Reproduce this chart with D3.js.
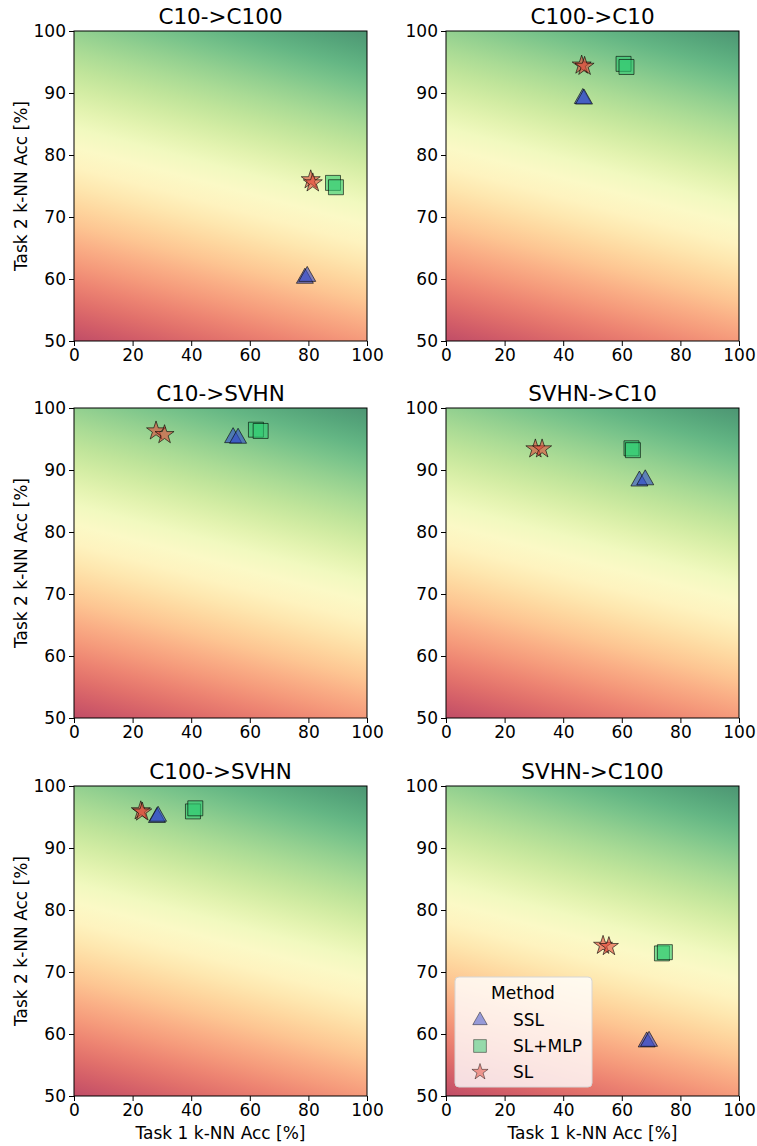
<!DOCTYPE html>
<html lang="en">
<head>
<meta charset="utf-8">
<title>k-NN accuracy panels</title>
<script src="https://cdn.jsdelivr.net/npm/d3@7/dist/d3.min.js"></script>
<style>
  body { margin: 0; background: #fff; }
  svg { font-family: "DejaVu Sans", sans-serif; }
</style>
</head>
<body>
<div id="chart"></div>
<script>
"use strict";

// --- data ---
var panelTitles = ["C10->C100", "C100->C10", "C10->SVHN", "SVHN->C10", "C100->SVHN", "SVHN->C100"];
var methods = ["SSL", "SL+MLP", "SL"];
var xTicks = [0, 20, 40, 60, 80, 100];
var yTicks = [50, 60, 70, 80, 90, 100];

// one inner array per panel, several runs per method
var sslX = [[78.8, 79.6], [46.7, 47.1], [54.3, 56.0], [66.0, 68.0], [28.3, 28.7], [68.5, 69.3]];
var sslY = [[60.2, 60.5], [89.2, 89.1], [95.3, 95.2], [88.3, 88.5], [95.0, 95.2], [58.8, 58.9]];
var mlpX = [[88.4, 89.4], [60.6, 61.6], [62.1, 63.7], [63.3, 63.8], [40.6, 41.4], [73.7, 74.7]];
var mlpY = [[75.5, 74.8], [94.7, 94.2], [96.5, 96.3], [93.5, 93.2], [95.9, 96.4], [73.0, 73.2]];
var slX  = [[80.8, 81.5], [46.3, 47.3], [28.0, 30.9], [30.5, 32.8], [22.8, 23.3], [53.6, 55.6]];
var slY  = [[76.0, 75.5], [94.5, 94.3], [96.3, 95.7], [93.4, 93.4], [96.0, 95.8], [74.3, 74.1]];

var methodColor = {"SSL": "#2f48cc", "SL+MLP": "#2ecc71", "SL": "#e2473a"};

// --- layout ---
var W = 757, H = 1146;
var colX = [74, 446];
var rowY = [31, 408, 786];
var pw = 293, ph = 310;

var svg = d3.select("#chart").append("svg")
    .attr("width", W).attr("height", H);
var defs = svg.append("defs");

function starPath(r) {
    var ri = r * 0.382, pts = [];
    for (var k = 0; k < 10; k++) {
        var a = -Math.PI / 2 + k * Math.PI / 5;
        var rr = (k % 2 === 0) ? r : ri;
        pts.push([rr * Math.cos(a), rr * Math.sin(a)]);
    }
    return "M" + pts.map(function(p) { return p[0].toFixed(2) + "," + p[1].toFixed(2); }).join("L") + "Z";
}
function markerPath(m) {
    if (m === "SSL") return "M0,-9.5L8.5,5.5L-8.5,5.5Z";
    if (m === "SL+MLP") return "M-7.5,-7.5H7.5V7.5H-7.5Z";
    return starPath(10);
}

// background colour field: 0.2 * x_norm + 0.8 * y_norm through RdYlGn at alpha 0.7
function blend(t) {
    var c = d3.rgb(d3.interpolateRdYlGn(t));
    var a = 0.7;
    return d3.rgb(c.r * a + 255 * (1 - a), c.g * a + 255 * (1 - a), c.b * a + 255 * (1 - a)).formatHex();
}

panelTitles.forEach(function(title, i) {
    var col = i % 2, row = Math.floor(i / 2);
    var x0 = colX[col], y0 = rowY[row];
    var x = d3.scaleLinear().domain([0, 100]).range([x0, x0 + pw]);
    var y = d3.scaleLinear().domain([50, 100]).range([y0 + ph, y0]);

    // gradient in user space
    var gx = 0.2 / pw, gy = -0.8 / ph;
    var g2 = gx * gx + gy * gy;
    var px0 = x(0), py0 = y(50);
    var gid = "bg" + i;
    var grad = defs.append("linearGradient").attr("id", gid)
        .attr("gradientUnits", "userSpaceOnUse")
        .attr("x1", px0).attr("y1", py0)
        .attr("x2", px0 + gx / g2).attr("y2", py0 + gy / g2);
    d3.range(0, 1.0001, 0.05).forEach(function(t) {
        grad.append("stop").attr("offset", t).attr("stop-color", blend(t));
    });

    var g = svg.append("g");
    g.append("rect").attr("x", x(0)).attr("y", y(100))
        .attr("width", pw).attr("height", ph)
        .attr("fill", "url(#" + gid + ")");

    var seriesX = [sslX[i], mlpX[i], slX[i]];
    var seriesY = [sslY[i], mlpY[i], slY[i]];
    methods.forEach(function(m, k) {
        var pts = seriesX[k].map(function(v, j) { return [v, seriesY[k][j]]; });
        g.selectAll(null).data(pts).enter().append("path")
            .attr("d", markerPath(m))
            .attr("transform", function(d) { return "translate(" + x(d[0]) + "," + y(d[1]) + ")"; })
            .attr("fill", methodColor[m]).attr("fill-opacity", 0.6)
            .attr("stroke", "#000").attr("stroke-opacity", 0.6).attr("stroke-width", 1);
    });

    var xa = g.append("g").attr("transform", "translate(0," + (y0 + ph) + ")")
        .call(d3.axisBottom(x).tickValues(xTicks).tickSize(5).tickPadding(3));
    var ya = g.append("g").attr("transform", "translate(" + x0 + ",0)")
        .call(d3.axisLeft(y).tickValues(yTicks).tickSize(5).tickPadding(3));
    [xa, ya].forEach(function(a) {
        a.select(".domain").remove();
        a.selectAll("text").attr("font-size", 17).attr("fill", "#000")
            .attr("font-family", "DejaVu Sans, sans-serif");
        a.selectAll("line").attr("stroke", "#000");
    });
    g.append("rect").attr("x", x0).attr("y", y0).attr("width", pw).attr("height", ph)
        .attr("fill", "none").attr("stroke", "#000").attr("stroke-width", 1);

    g.append("text").attr("x", x0 + pw / 2).attr("y", y0 - 7)
        .attr("text-anchor", "middle").attr("font-size", 21.5).text(title);

    if (col === 0) {
        g.append("text")
            .attr("transform", "translate(27," + (y0 + ph / 2) + ") rotate(-90)")
            .attr("text-anchor", "middle").attr("font-size", 17)
            .text("Task 2 k-NN Acc [%]");
    }
    if (row === 2) {
        g.append("text").attr("x", x0 + pw / 2).attr("y", 1139)
            .attr("text-anchor", "middle").attr("font-size", 17)
            .text("Task 1 k-NN Acc [%]");
    }

    if (i === 5) {
        var lg = g.append("g").attr("transform", "translate(455,977)");
        lg.append("rect").attr("width", 137).attr("height", 110).attr("rx", 4)
            .attr("fill", "#fff").attr("fill-opacity", 0.8)
            .attr("stroke", "#d6d6d6").attr("stroke-width", 1);
        lg.append("text").attr("x", 68).attr("y", 22).attr("text-anchor", "middle")
            .attr("font-size", 17).text("Method");
        methods.forEach(function(m, k) {
            var cy = 43 + k * 26;
            lg.append("path").attr("d", markerPath(m))
                .attr("transform", "translate(25," + cy + ") scale(0.85)")
                .attr("fill", methodColor[m]).attr("fill-opacity", 0.5)
                .attr("stroke", "#000").attr("stroke-opacity", 0.5).attr("stroke-width", 1);
            lg.append("text").attr("x", 58).attr("y", cy + 6)
                .attr("font-size", 17).text(m);
        });
    }
});
</script>
</body>
</html>
